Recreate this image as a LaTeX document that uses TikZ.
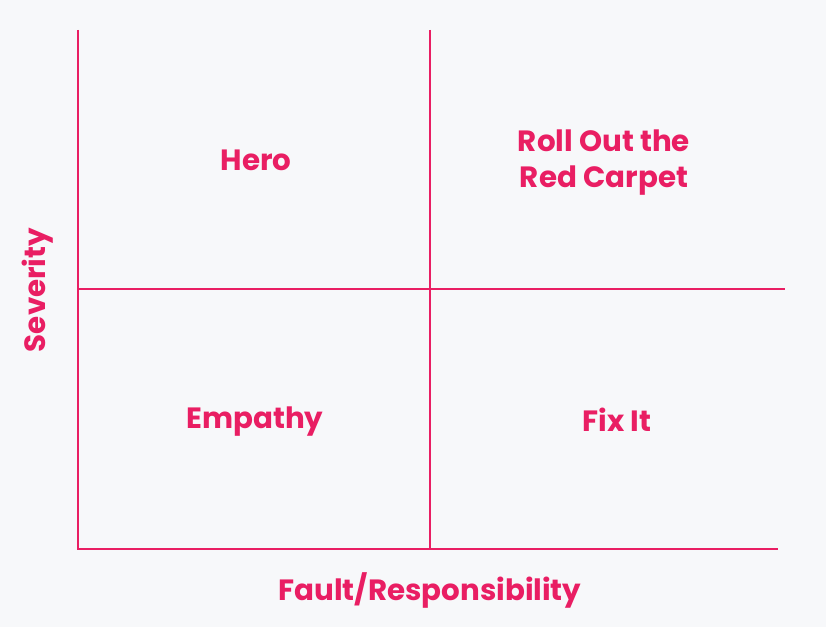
\documentclass[tikz,border=0pt]{standalone}
\usepackage{fontspec}
\setmainfont{Poppins}
\definecolor{GridPink}{RGB}{233,30,99}
\definecolor{PaperGray}{RGB}{247,248,250}
\tikzset{
  gridline/.style={draw=GridPink,line width=2.2pt},
  quadlabel/.style={text=GridPink,font=\bfseries\fontsize{22}{27}\selectfont,
    align=center,inner sep=0pt},
  axislabel/.style={text=GridPink,font=\bfseries\fontsize{22}{27}\selectfont,
    inner sep=0pt},
}
\begin{document}
\begin{tikzpicture}[x=0.75pt,y=-0.75pt]
  \fill[PaperGray] (0,0) rectangle (826,627);
  \useasboundingbox (0,0) rectangle (826,627);
  % axes and dividers
  \coordinate (top) at (78,30);
  \coordinate (origin) at (78,549);
  \coordinate (xend) at (778,549);
  \coordinate (midtop) at (430,30);
  \coordinate (midbot) at (430,549);
  \coordinate (midleft) at (78,289);
  \coordinate (midright) at (785,289);
  \draw[gridline] (top) -- (origin) -- (xend);
  \draw[gridline] (midtop) -- (midbot);
  \draw[gridline] (midleft) -- (midright);
  % quadrant labels
  \node[quadlabel] (hero) at (256,160) {Hero};
  \node[quadlabel] (carpet) at (604,163) {Roll Out the\\Red Carpet};
  \node[quadlabel] (empathy) at (255,422) {Empathy};
  \node[quadlabel] (fixit) at (617,420) {Fix It};
  % axis labels
  \node[axislabel] (fault) at (430,590) {Fault/Responsibility};
  \node[axislabel,rotate=90] (severity) at (38,290) {Severity};
\end{tikzpicture}
\end{document}
